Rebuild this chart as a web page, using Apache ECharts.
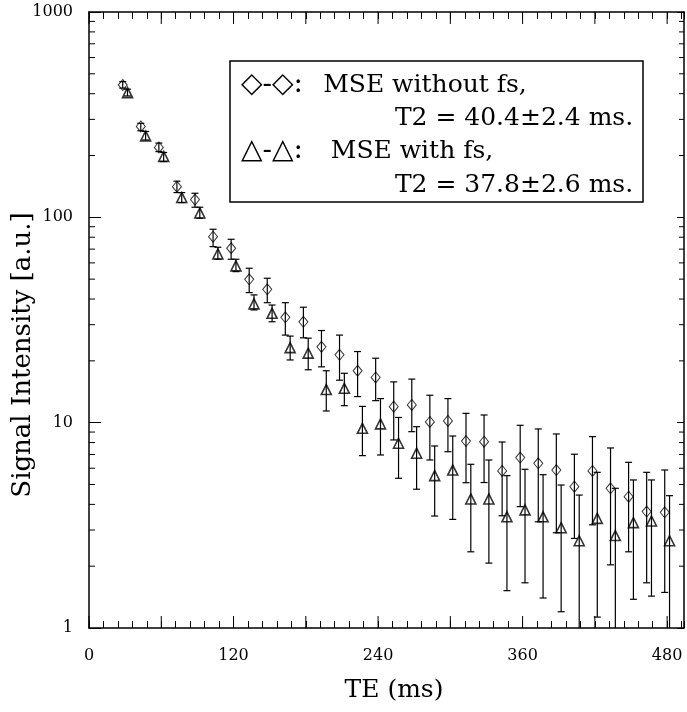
<!DOCTYPE html>
<html>
<head>
<meta charset="utf-8">
<title>MSE signal decay</title>
<script src="https://cdn.jsdelivr.net/npm/echarts@6.0.0/dist/echarts.min.js"></script>
<style>
  html, body { margin: 0; padding: 0; background: #fff; }
  #main { width: 687px; height: 712px; }
</style>
</head>
<body>
<div id="main"></div>
<script type="text/javascript">
// echo times (ms)
var te = [30, 45, 60, 75, 90, 105, 120, 135, 150, 165, 180, 195, 210, 225, 240, 255,
          270, 285, 300, 315, 330, 345, 360, 375, 390, 405, 420, 435, 450, 465, 480];

// MSE without fs (diamonds)
var noFs   = [441, 277, 219, 141, 122, 80.5, 70.7, 49.9, 44.6, 32.6, 31.0, 23.4, 21.4, 17.9, 16.6, 11.97,
              12.2, 10.08, 10.2, 8.14, 8.08, 5.82, 6.76, 6.34, 5.88, 4.88, 5.82, 4.79, 4.36, 3.69, 3.66];
var noFsLo = [426, 264, 209, 132, 112, 72, 62.5, 43.0, 38.4, 26.7, 25.9, 18.7, 16.1, 13.4, 12.8, 8.24,
              9.04, 6.58, 7.22, 5.10, 5.11, 3.52, 3.90, 3.29, 2.91, 2.73, 3.18, 2.03, 2.35, 1.66, 1.49];
var noFsHi = [458, 287, 230, 150, 131, 87.5, 78.2, 56.5, 50.5, 38.4, 36.5, 28.1, 26.7, 22.2, 20.6, 15.8,
              16.3, 13.6, 13.1, 11.1, 10.9, 8.05, 9.71, 9.32, 8.81, 7.02, 8.55, 7.53, 6.41, 5.73, 5.88];

// MSE with fs (triangles)
var withFs   = [405, 249, 198, 125, 105, 66.3, 58, 37.9, 34.1, 23.2, 21.8, 14.5, 14.7, 9.39, 9.86, 7.94,
                7.1, 5.52, 5.88, 4.25, 4.25, 3.48, 3.76, 3.48, 3.08, 2.66, 3.42, 2.82, 3.26, 3.32, 2.66];
var withFsLo = [390, 238, 187, 118, 99, 62.5, 54.4, 35.4, 31.0, 20.2, 18.1, 11.4, 12.1, 6.91, 6.96, 5.36,
                4.74, 3.51, 3.38, 2.35, 2.07, 1.52, 1.66, 1.40, 1.20, 0.9, 1.13, 0.9, 1.38, 1.43, 0.95];
var withFsHi = [421, 262, 207, 132, 112, 71.5, 62.5, 41.9, 37.4, 26.4, 25.8, 17.9, 17.4, 12.0, 13.1, 10.6,
                9.56, 7.70, 8.61, 6.27, 6.58, 5.52, 5.93, 5.58, 4.97, 4.44, 5.73, 4.79, 5.26, 5.26, 4.41];

var xMax = 494;
var xMajorTicks = [0, 60, 120, 180, 240, 300, 360, 420, 480];
var yDecades = [1, 10, 100];

// legend: symbol part, description, T2 line
var legendSym  = ['\u25C7-\u25C7:', '\u25B3-\u25B3:'];
var legendDesc = ['MSE without fs,', 'MSE with fs,'];
var legendT2   = ['T2 = 40.4\u00B12.4 ms.', 'T2 = 37.8\u00B12.6 ms.'];

var font = 'DejaVu Serif';
var shift = 2; // the two sets are drawn slightly apart in x

var yMinor = [];
yDecades.forEach(function (d) {
  for (var k = 2; k <= 9; k++) yMinor.push(d * k);
});

function pts(vals, dx) {
  return vals.map(function (v, i) { return [te[i] + dx, v]; });
}

function errBars(lo, hi, dx) {
  return {
    type: 'custom',
    clip: true,
    silent: true,
    z: 2,
    data: lo.map(function (v, i) { return [te[i] + dx, v, hi[i]]; }),
    encode: { x: 0, y: [1, 2] },
    renderItem: function (params, api) {
      var x = api.value(0);
      var a = api.coord([x, api.value(1)]);
      var b = api.coord([x, api.value(2)]);
      var w = 3.5;
      var st = { stroke: '#000', lineWidth: 1.2 };
      return {
        type: 'group',
        children: [
          { type: 'line', shape: { x1: a[0], y1: a[1], x2: b[0], y2: b[1] }, style: st },
          { type: 'line', shape: { x1: a[0] - w, y1: a[1], x2: a[0] + w, y2: a[1] }, style: st },
          { type: 'line', shape: { x1: b[0] - w, y1: b[1], x2: b[0] + w, y2: b[1] }, style: st }
        ]
      };
    }
  };
}

// long ticks every 60 ms on bottom and top
var xLongTicks = {
  type: 'custom', silent: true, z: 3,
  data: xMajorTicks.map(function (v) { return [v, 1]; }),
  renderItem: function (params, api) {
    var b = api.coord([api.value(0), 1]);
    var t = api.coord([api.value(0), 1000]);
    var st = { stroke: '#000', lineWidth: 1 };
    return {
      type: 'group',
      children: [
        { type: 'line', shape: { x1: b[0], y1: b[1], x2: b[0], y2: b[1] - 12 }, style: st },
        { type: 'line', shape: { x1: t[0], y1: t[1], x2: t[0], y2: t[1] + 12 }, style: st }
      ]
    };
  }
};

// log minor ticks (2..9) on left and right
var yMinorTicks = {
  type: 'custom', silent: true, z: 3,
  data: yMinor.map(function (v) { return [0, v]; }),
  renderItem: function (params, api) {
    var l = api.coord([0, api.value(1)]);
    var r = api.coord([xMax, api.value(1)]);
    var st = { stroke: '#000', lineWidth: 1 };
    return {
      type: 'group',
      children: [
        { type: 'line', shape: { x1: l[0], y1: l[1], x2: l[0] + 6, y2: l[1] }, style: st },
        { type: 'line', shape: { x1: r[0], y1: r[1], x2: r[0] - 5, y2: r[1] }, style: st }
      ]
    };
  }
};

function xAx(pos, showLabel) {
  return {
    type: 'value', position: pos, min: 0, max: xMax, interval: 12,
    axisLine: { show: true, onZero: false, lineStyle: { color: '#000', width: 1.5 } },
    axisTick: { show: true, inside: true, length: 7, lineStyle: { color: '#000', width: 1 } },
    splitLine: { show: false },
    axisLabel: {
      show: showLabel, margin: 20, color: '#000', fontFamily: font, fontSize: 16,
      formatter: function (v) { return v % 120 === 0 ? String(v) : ''; }
    }
  };
}

function yAx(pos, showLabel, tickLen) {
  return {
    type: 'log', logBase: 10, position: pos, min: 1, max: 1000,
    axisLine: { show: true, onZero: false, lineStyle: { color: '#000', width: 1.5 } },
    axisTick: { show: true, inside: true, length: tickLen, lineStyle: { color: '#000', width: 1 } },
    splitLine: { show: false },
    axisLabel: {
      show: showLabel, margin: 16, color: '#000', fontFamily: font, fontSize: 16,
      formatter: function (v) { return String(Math.round(v)); }
    }
  };
}

var xBottom = xAx('bottom', true);
xBottom.name = 'TE (ms)';
xBottom.nameLocation = 'middle';
xBottom.nameGap = 50;
xBottom.nameMoveOverlap = false;
xBottom.nameTextStyle = { color: '#000', fontFamily: font, fontSize: 25, padding: [0, 0, 0, 15] };

var yLeft = yAx('left', true, 12);
yLeft.name = 'Signal Intensity [a.u.]';
yLeft.nameLocation = 'middle';
yLeft.nameGap = 53;
yLeft.nameMoveOverlap = false;
yLeft.nameTextStyle = { color: '#000', fontFamily: font, fontSize: 26, padding: [0, 70, 0, 0] };

function legendText(x, y, text, align, size) {
  return {
    type: 'text', z: 11, x: x, y: y,
    style: { text: text, align: align, verticalAlign: 'middle', fill: '#000',
             font: size + 'px "' + font + '"' }
  };
}

var option = {
  animation: false,
  backgroundColor: '#fff',
  grid: { left: 89, right: 3, top: 12, bottom: 84, outerBoundsMode: 'none', containLabel: false },
  xAxis: [xBottom, xAx('top', false)],
  yAxis: [yLeft, yAx('right', false, 7)],
  series: [
    errBars(noFsLo, noFsHi, -shift),
    errBars(withFsLo, withFsHi, shift),
    {
      type: 'scatter', z: 4, data: pts(noFs, -shift),
      symbol: 'diamond', symbolSize: [9, 11],
      itemStyle: { color: 'transparent', borderColor: '#000', borderWidth: 1 }
    },
    {
      type: 'scatter', z: 4, data: pts(withFs, shift),
      symbol: 'triangle', symbolSize: [10, 10],
      itemStyle: { color: 'transparent', borderColor: '#000', borderWidth: 1.6 }
    },
    xLongTicks,
    yMinorTicks
  ],
  graphic: [
    { type: 'rect', z: 10, shape: { x: 230, y: 61, width: 413, height: 141 },
      style: { fill: '#fff', stroke: '#000', lineWidth: 1.5 } },
    legendText(241, 85, legendSym[0], 'left', 28),
    legendText(425, 85, legendDesc[0], 'center', 25),
    legendText(514, 118, legendT2[0], 'center', 25),
    legendText(241, 151, legendSym[1], 'left', 28),
    legendText(412, 151, legendDesc[1], 'center', 25),
    legendText(514, 185, legendT2[1], 'center', 25)
  ]
};

echarts.init(document.getElementById('main')).setOption(option);
</script>
</body>
</html>
